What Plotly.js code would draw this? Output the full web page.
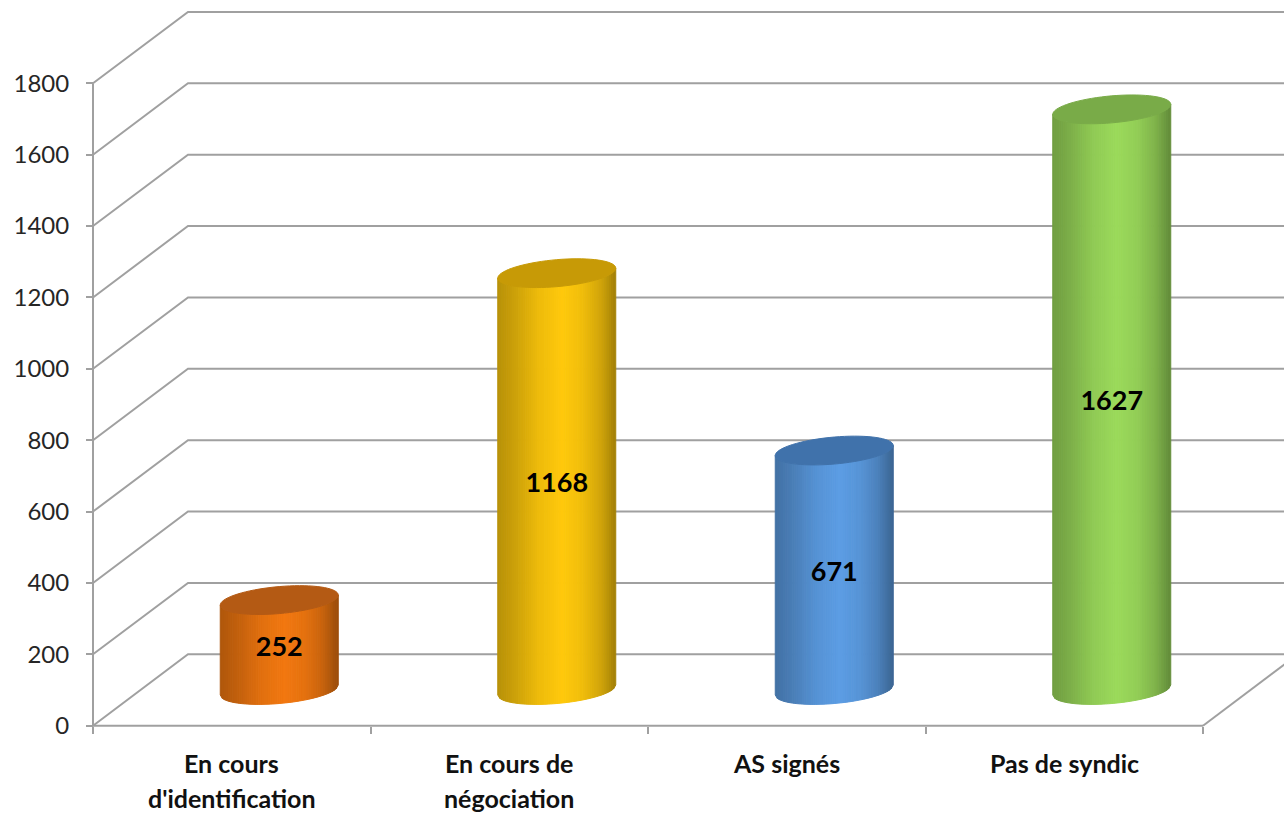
<!DOCTYPE html>
<html><head><meta charset="utf-8">
<script src="https://cdn.plot.ly/plotly-3.0.1.min.js"></script>
<style>html,body{margin:0;padding:0;background:#fff;} #chart{width:1284px;height:815px;}</style>
</head><body><div id="chart"></div>
<script>
// ---- data ----
const categories = ["En cours\nd'identification", "En cours de\nnégociation", "AS signés", "Pas de syndic"];
const values = [252, 1168, 671, 1627];
const tickValues = [0, 200, 400, 600, 800, 1000, 1200, 1400, 1600, 1800];

// ---- styles ----
const bodyColors = ['#f27810', '#ffc90c', '#5c9de4', '#9bda5b'];
const topColors  = ['#b45a14', '#c79a06', '#4072ab', '#79ab48'];
const gridColor = '#a0a0a0';
const FONT = 'Lato, "Open Sans", sans-serif';

// ---- geometry ----
const W = 1284, H = 815;
const mL = 83, mB = 80;
const plotW = W - mL, plotH = H - mB;
const pxPerCat = 277.5, pxPerUnit = 642.4 / 1800;
const originX = 10, originY = 9.3;            // px from plot left / bottom to the (0,0) corner
const xMin = -originX / pxPerCat, xMax = xMin + plotW / pxPerCat;
const yMin = -originY / pxPerUnit, yMax = yMin + plotH / pxPerUnit;
const depthX = 95 / pxPerCat, depthY = 200;   // 3D depth offset (x in categories, y in value units)
const radX = 59 / pxPerCat, radY = 13.5 / pxPerUnit, tilt = 5 / pxPerUnit;
const shadeStops = [[-1,0.72],[-0.7,0.8],[-0.3,0.93],[0.1,1.0],[0.45,0.94],[0.75,0.82],[1,0.64]];

function hexToRgb(h){h=h.replace('#','');return [0,2,4].map(i=>parseInt(h.substr(i,2),16));}
function shade(hex,f){const c=hexToRgb(hex).map(v=>Math.max(0,Math.min(255,Math.round(v*f))));return 'rgb('+c.join(',')+')';}
function shadeFactor(u){
  for(let i=0;i<shadeStops.length-1;i++){
    const a=shadeStops[i], b=shadeStops[i+1];
    if(u>=a[0] && u<=b[0]){const t=(u-a[0])/(b[0]-a[0]);return a[1]+t*(b[1]-a[1]);}
  }
  return 1;
}

const shapes = [];
const lineStyle = {color: gridColor, width: 2};
// back wall grid lines with oblique side wall connectors
tickValues.forEach(v => {
  shapes.push({type:'path', xref:'x', yref:'y', layer:'below', line:lineStyle,
    path:`M 0,${v} L ${depthX},${v+depthY} L ${xMax+1},${v+depthY}`});
});
// floor right edge
shapes.push({type:'line', xref:'x', yref:'y', layer:'below', line:lineStyle,
  x0:categories.length, y0:0, x1:categories.length+depthX, y1:depthY});
// front vertical axis and front floor edge
shapes.push({type:'line', xref:'x', yref:'y', layer:'below', line:lineStyle,
  x0:0, y0:0, x1:0, y1:tickValues[tickValues.length-1]});
shapes.push({type:'line', xref:'x', yref:'y', layer:'below', line:lineStyle,
  x0:0, y0:0, x1:categories.length, y1:0});

// cylinders
const centers = categories.map((c,i) => i + 0.5 + depthX/2);
const baseVal = depthY/2;
const N = 56;
values.forEach((v,i) => {
  const cx = centers[i], top = baseVal + v;
  const arc = (u, lvl) => lvl + tilt*u - radY*Math.sqrt(Math.max(0,1-u*u));
  for(let j=0;j<N;j++){
    const u0=-1+2*j/N, u1=-1+2*(j+1)/N, uc=(u0+u1)/2;
    const col = shade(bodyColors[i], shadeFactor(uc));
    const x0=cx+radX*u0, x1=cx+radX*u1;
    shapes.push({type:'path', xref:'x', yref:'y', layer:'below',
      fillcolor:col, line:{color:col, width:1},
      path:`M ${x0},${arc(u0,baseVal)} L ${x1},${arc(u1,baseVal)} L ${x1},${arc(u1,top)} L ${x0},${arc(u0,top)} Z`});
  }
  let p='';
  for(let k=0;k<=72;k++){
    const th=2*Math.PI*k/72;
    const x=cx+radX*Math.cos(th), y=top+tilt*Math.cos(th)+radY*Math.sin(th);
    p += (k===0?'M ':' L ')+x+','+y;
  }
  p+=' Z';
  shapes.push({type:'path', xref:'x', yref:'y', layer:'below',
    fillcolor:topColors[i], line:{color:topColors[i], width:1}, path:p});
});

// category labels
const annotations = [];
const labelFirstPx = 763, labelGapPx = 35;
categories.forEach((c,i) => {
  c.split('\n').forEach((line,k) => {
    annotations.push({x:i+0.5, xref:'x', yref:'paper', y:1-(labelFirstPx+k*labelGapPx)/plotH,
      yanchor:'middle', xanchor:'center', showarrow:false, text:line,
      font:{family:FONT, size:25, color:'#111111', weight:700}});
  });
});

const trace = {
  type:'bar', x:centers, y:values, base:baseVal, width:2*radX,
  marker:{color:'rgba(0,0,0,0)', line:{width:0}},
  text:values.map(String), textposition:'inside', insidetextanchor:'middle', textangle:0,
  constraintext:'none',
  textfont:{family:FONT, size:27, color:'#000000', weight:700},
  hoverinfo:'skip', showlegend:false
};

const layout = {
  width:W, height:H, margin:{l:mL, r:0, t:0, b:mB, pad:0},
  paper_bgcolor:'#ffffff', plot_bgcolor:'rgba(0,0,0,0)',
  showlegend:false,
  xaxis:{range:[xMin,xMax], anchor:'free', position:originY/plotH,
    tickvals:[0,1,2,3,4], showticklabels:false, ticks:'outside', ticklen:7, tickwidth:2, tickcolor:gridColor,
    showgrid:false, zeroline:false, showline:false, fixedrange:true},
  yaxis:{range:[yMin,yMax], anchor:'free', position:originX/plotW,
    tickvals:tickValues, ticks:'outside', ticklen:7, tickwidth:2, tickcolor:gridColor,
    ticklabelstandoff:12,
    tickfont:{family:FONT, size:24, color:'#262626'},
    showgrid:false, zeroline:false, showline:false, fixedrange:true},
  shapes:shapes, annotations:annotations
};

Plotly.newPlot('chart', [trace], layout, {displayModeBar:false, staticPlot:true});
</script>
</body></html>
